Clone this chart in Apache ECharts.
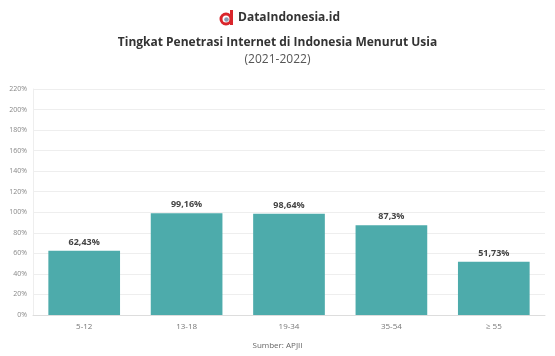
<!DOCTYPE html>
<html><head><meta charset="utf-8">
<script src="https://cdn.jsdelivr.net/npm/echarts@6/dist/echarts.min.js"></script>
<style>html,body{margin:0;padding:0;background:#fff}#c{width:555px;height:356px}</style>
</head><body><div id="c"></div>
<script>
const categories = ['5-12', '13-18', '19-34', '35-54', '≥ 55'];
const values = [62.43, 99.16, 98.64, 87.3, 51.73];
const valueLabels = ['62,43%', '99,16%', '98,64%', '87,3%', '51,73%'];
const yTicks = [0, 20, 40, 60, 80, 100, 120, 140, 160, 180, 200, 220];

const chart = echarts.init(document.getElementById('c'), null, {renderer: 'canvas'});
chart.setOption({
  animation: false,
  backgroundColor: '#fff',
  graphic: [
    {type: 'circle', shape: {cx: 226, cy: 19, r: 5}, style: {fill: 'none', stroke: '#d9262c', lineWidth: 3}},
    {type: 'rect', shape: {x: 230, y: 10, width: 3, height: 15}, style: {fill: '#d9262c'}},
    {type: 'circle', shape: {cx: 226.5, cy: 19.5, r: 2.3}, style: {fill: '#8a9bb0'}},
    {type: 'text', left: 238, top: 12, style: {text: 'DataIndonesia.id', font: 'bold 12px "Open Sans"', fill: '#333'}},
    {type: 'text', left: 'center', top: 37, style: {text: 'Tingkat Penetrasi Internet di Indonesia Menurut Usia', font: 'bold 12px "Open Sans"', fill: '#333'}},
    {type: 'text', left: 'center', top: 54, style: {text: '(2021-2022)', font: '12px "Open Sans"', fill: '#555'}},
    {type: 'text', left: 'center', top: 342, style: {text: 'Sumber: APJII', font: '8px "Open Sans"', fill: '#666'}}
  ],
  grid: {left: 33, right: 10, top: 89, bottom: 41},
  xAxis: {
    type: 'category', data: categories,
    axisLine: {lineStyle: {color: '#ddd'}}, axisTick: {show: false},
    axisLabel: {color: '#777', fontSize: 8, fontFamily: 'Open Sans', margin: 8}
  },
  yAxis: {
    type: 'value', min: 0, max: 220, interval: 20,
    axisLine: {show: true, lineStyle: {color: '#eee'}},
    splitLine: {lineStyle: {color: '#eee'}},
    axisLabel: {color: '#888', fontSize: 7, fontFamily: 'Open Sans', margin: 6, formatter: v => v + '%'}
  },
  series: [{
    type: 'bar', data: values, barWidth: '70%',
    itemStyle: {color: '#4dabab'},
    label: {show: true, position: 'top', distance: 4, formatter: p => valueLabels[p.dataIndex],
      color: '#444', fontWeight: 'bold', fontSize: 9, fontFamily: 'Open Sans'}
  }]
});
</script></body></html>
